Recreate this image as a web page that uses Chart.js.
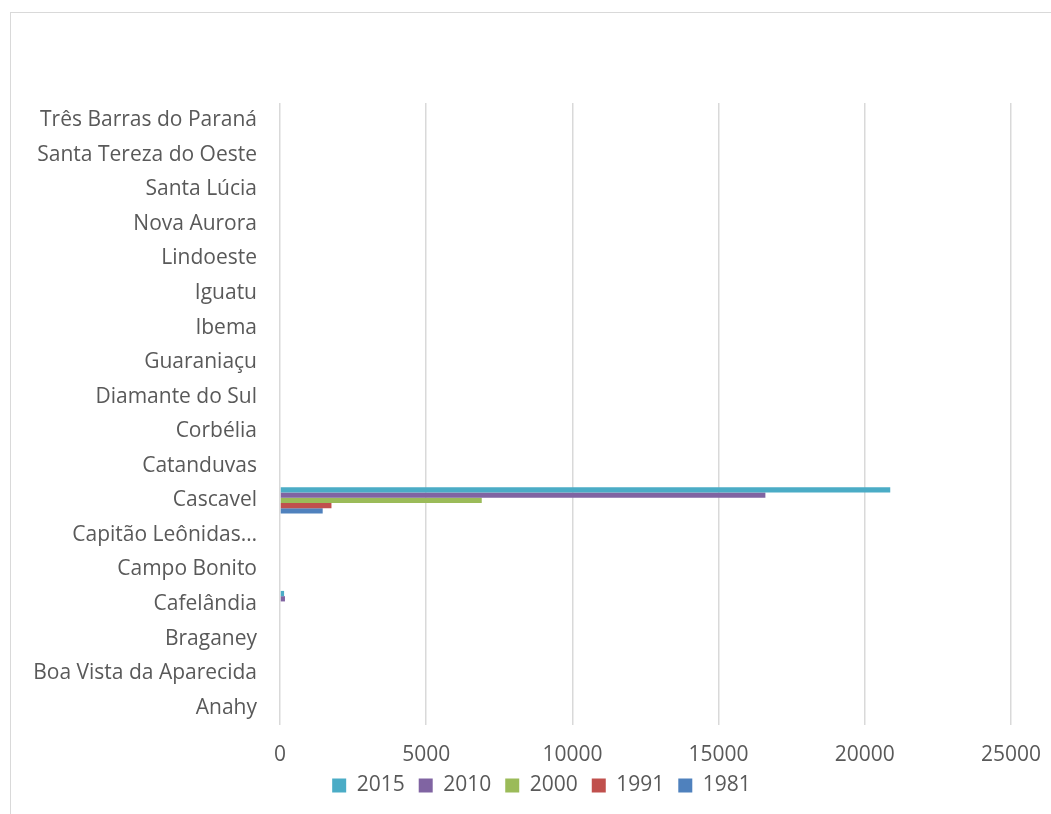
<!DOCTYPE html>
<html>
<head>
<meta charset="utf-8">
<title>Municípios - barras</title>
<script src="https://cdn.jsdelivr.net/npm/chart.js@4.4.1/dist/chart.umd.min.js"></script>
<style>
    body { margin: 0; background: #fff; }
    #wrap { position: relative; width: 1051px; height: 814px; overflow: hidden; }
    #frame { position: absolute; left: 10px; top: 12px; width: 1100px; height: 900px;
             border-left: 1px solid #d9d9d9; border-top: 1px solid #d9d9d9; }
    #grafico { position: absolute; left: 0; top: 0; }
</style>
</head>
<body>
<div id="wrap">
    <div id="frame"></div>
    <canvas id="grafico" width="1051" height="814"></canvas>
</div>
<script>
// Categorias (de baixo para cima, como no original)
const municipios = [
    'Anahy', 'Boa Vista da Aparecida', 'Braganey', 'Cafelândia', 'Campo Bonito',
    'Capitão Leônidas Marques', 'Cascavel', 'Catanduvas', 'Corbélia', 'Diamante do Sul',
    'Guaraniaçu', 'Ibema', 'Iguatu', 'Lindoeste', 'Nova Aurora', 'Santa Lúcia',
    'Santa Tereza do Oeste', 'Três Barras do Paraná'
];

// Séries por ano
const anos2015 = [0, 0, 0, 140, 0, 0, 20870, 0, 0, 0, 0, 0, 0, 0, 0, 0, 0, 0];
const anos2010 = [0, 0, 0, 170, 0, 0, 16600, 0, 0, 0, 0, 0, 0, 0, 0, 0, 0, 0];
const anos2000 = [0, 0, 0, 0, 0, 0, 6900, 0, 0, 0, 0, 0, 0, 0, 0, 0, 0, 0];
const anos1991 = [0, 0, 0, 0, 0, 0, 1760, 0, 0, 0, 0, 0, 0, 0, 0, 0, 0, 0];
const anos1981 = [0, 0, 0, 0, 0, 0, 1460, 0, 0, 0, 0, 0, 0, 0, 0, 0, 0, 0];

const ticksX = [0, 5000, 10000, 15000, 20000, 25000];

const corTexto = '#595959';
const fonte = { family: "'Open Sans', sans-serif", size: 21 };

// a legenda do original fica um pouco à direita do centro do canvas
const moverLegenda = {
    id: 'moverLegenda',
    afterLayout(chart) {
        const leg = chart.legend;
        leg.left += 36;
        leg.right += 36;
        leg.top -= 8;
        leg.bottom -= 8;
    }
};

const ctx = document.getElementById('grafico');

new Chart(ctx.getContext('2d'), {
    type: 'bar',
    data: {
        labels: municipios,
        datasets: [
            { label: '2015', data: anos2015, backgroundColor: '#4bacc6' },
            { label: '2010', data: anos2010, backgroundColor: '#8064a2' },
            { label: '2000', data: anos2000, backgroundColor: '#9bbb59' },
            { label: '1991', data: anos1991, backgroundColor: '#c0504d' },
            { label: '1981', data: anos1981, backgroundColor: '#4f81bd' }
        ]
    },
    plugins: [moverLegenda],
    options: {
        indexAxis: 'y',
        responsive: false,
        animation: false,
        datasets: {
            bar: { categoryPercentage: 0.76, barPercentage: 1.0 }
        },
        layout: { padding: { top: 103, right: 40, bottom: 0, left: 0 } },
        plugins: {
            legend: {
                position: 'bottom',
                labels: {
                    color: corTexto,
                    font: fonte,
                    boxWidth: 14,
                    boxHeight: 14,
                    padding: 14
                }
            },
            tooltip: { enabled: false }
        },
        scales: {
            y: {
                reverse: true,
                grid: { display: false },
                border: { display: false },
                afterFit: function(scale) { scale.width = 280; },
                ticks: {
                    color: corTexto,
                    font: fonte,
                    padding: 15,
                    autoSkip: false,
                    callback: function(value) {
                        const nome = this.getLabelForValue(value);
                        return nome.length > 22 ? nome.slice(0, 16) + '…' : nome;
                    }
                }
            },
            x: {
                min: 0,
                max: 25000,
                afterBuildTicks: function(scale) {
                    scale.ticks = ticksX.map(v => ({ value: v }));
                },
                afterFit: function(scale) {
                    scale.height = 44;
                    scale.paddingLeft = 0;
                    scale.paddingRight = 0;
                },
                grid: { color: '#d9d9d9', lineWidth: 1.5, drawTicks: false },
                border: { display: false },
                ticks: {
                    color: corTexto,
                    font: fonte,
                    padding: 17,
                    callback: function(value) { return String(value); }
                }
            }
        }
    }
});
</script>
</body>
</html>
